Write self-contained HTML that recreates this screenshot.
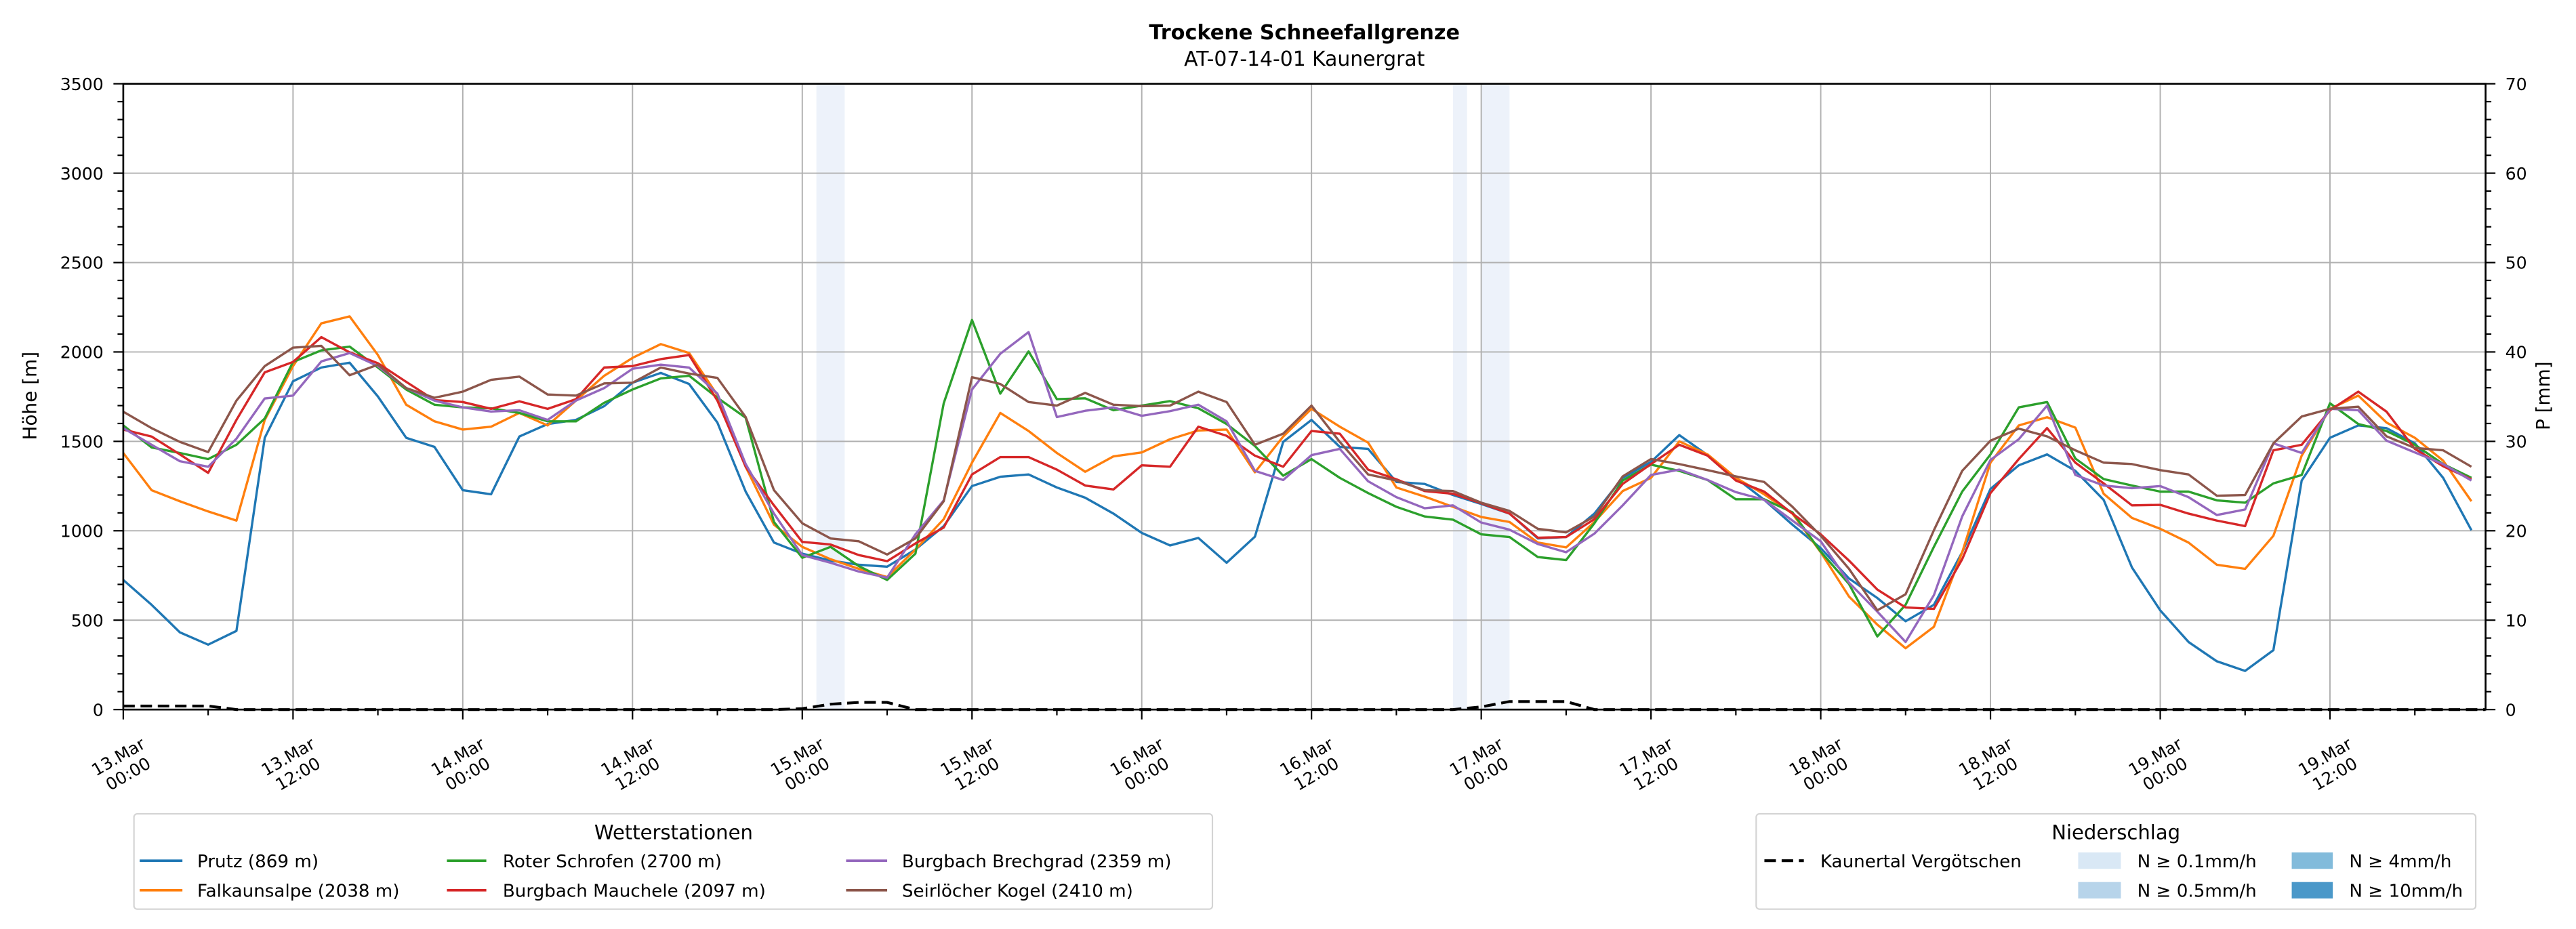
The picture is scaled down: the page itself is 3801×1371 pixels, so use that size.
<!DOCTYPE html>
<html><head><meta charset="utf-8"><style>
html,body{margin:0;padding:0;background:#fff;}
svg{display:block;font-family:"DejaVu Sans","Liberation Sans",sans-serif;}
</style></head><body>
<svg id="chart" width="3801" height="1371" viewBox="0 0 1568 565.6" xmlns="http://www.w3.org/2000/svg">
<rect width="1568" height="565.6" fill="#fff"/>
<text x="794" y="24" text-anchor="middle" font-size="12.5" font-weight="bold">Trockene Schneefallgrenze</text>
<text x="794" y="40" text-anchor="middle" font-size="12.3">AT-07-14-01 Kaunergrat</text>
<g id="shade"></g><g id="grid"></g><g id="series"></g><g id="axes"></g>
<text transform="translate(22,241) rotate(-90)" text-anchor="middle" font-size="11.5">Höhe [m]</text>
<text transform="translate(1552,241) rotate(-90)" text-anchor="middle" font-size="11.5">P [mm]</text>
<g>
<rect x="81.5" y="495.5" width="656.5" height="58" rx="2" fill="#fff" stroke="#d4d4d4" stroke-width="0.9"/>
<text x="410" y="511" text-anchor="middle" font-size="12">Wetterstationen</text>
<g font-size="10.8">
<line x1="85" y1="524" x2="111" y2="524" stroke="#1f77b4" stroke-width="1.5"/><text x="120" y="528">Prutz (869 m)</text>
<line x1="85" y1="542" x2="111" y2="542" stroke="#ff7f0e" stroke-width="1.5"/><text x="120" y="546">Falkaunsalpe (2038 m)</text>
<line x1="272" y1="524" x2="296" y2="524" stroke="#2ca02c" stroke-width="1.5"/><text x="306" y="528">Roter Schrofen (2700 m)</text>
<line x1="272" y1="542" x2="296" y2="542" stroke="#d62728" stroke-width="1.5"/><text x="306" y="546">Burgbach Mauchele (2097 m)</text>
<line x1="515" y1="524" x2="540" y2="524" stroke="#9467bd" stroke-width="1.5"/><text x="549" y="528">Burgbach Brechgrad (2359 m)</text>
<line x1="515" y1="542" x2="540" y2="542" stroke="#8c564b" stroke-width="1.5"/><text x="549" y="546">Seirlöcher Kogel (2410 m)</text>
</g></g>
<g>
<rect x="1069" y="495.5" width="438" height="58" rx="2" fill="#fff" stroke="#d4d4d4" stroke-width="0.9"/>
<text x="1288" y="511" text-anchor="middle" font-size="12">Niederschlag</text>
<g font-size="10.8">
<line x1="1074" y1="524" x2="1098" y2="524" stroke="#000" stroke-width="1.7" stroke-dasharray="7,3.5"/><text x="1108" y="528">Kaunertal Vergötschen</text>
<rect x="1265" y="519" width="26" height="10" fill="#d9e8f5"/><text x="1301" y="528">N ≥ 0.1mm/h</text>
<rect x="1265" y="537" width="26" height="10" fill="#b7d4ea"/><text x="1301" y="546">N ≥ 0.5mm/h</text>
<rect x="1395" y="519" width="25" height="10" fill="#82bbdb"/><text x="1430" y="528">N ≥ 4mm/h</text>
<rect x="1395" y="537" width="25" height="10" fill="#4a98c9"/><text x="1430" y="546">N ≥ 10mm/h</text>
</g></g>
</svg>
<script>
const hours = Array.from({length:84},(_, i)=>i*2);
const prutz = [725,586,432,363,440,1520,1836,1913,1940,1751,1520,1469,1227,1204,1527,1597,1620,1697,1828,1883,1821,1605,
1219,934,872,833,810,799,895,1026,1250,1302,1315,1242,1185,1096,988,918,960,821,967,1497,1620,
1469,1458,1273,1262,1200,1150,1096,957,965,1096,1296,1385,1535,1423,1296,1173,1034,903,733,624,494,
586,880,1234,1366,1427,1335,1173,795,555,378,270,216,332,1281,1520,1589,1574,1489,1296,1003];
const falkaunsalpe = [1435,1227,1165,1108,1057,1620,1921,2160,2199,1983,1705,1612,1566,1582,1659,1589,1728,1867,1967,2044,1994,1759,
1358,1034,910,841,787,741,895,1065,1381,1659,1558,1435,1330,1416,1438,1512,1561,1566,1327,1527,1682,
1582,1493,1242,1191,1134,1077,1049,934,907,1049,1222,1296,1500,1427,1296,1204,1096,880,632,475,343,
463,880,1381,1589,1635,1577,1207,1072,1011,934,810,787,972,1420,1682,1756,1605,1520,1392,1165];
const roterSchrofen = [1589,1466,1435,1401,1481,1628,1944,2009,2030,1913,1790,1705,1690,1685,1659,1612,1612,1716,1790,1852,1867,1744,
1632,1049,849,910,802,725,872,1713,2179,1767,2003,1736,1741,1674,1700,1725,1685,1597,1474,1308,1401,
1296,1211,1134,1080,1062,980,965,853,836,1042,1281,1370,1335,1284,1176,1176,1103,883,702,409,586,
910,1219,1427,1690,1720,1404,1289,1253,1219,1219,1170,1157,1265,1312,1713,1597,1558,1481,1373,1296];
const mauchele = [1566,1527,1427,1324,1620,1886,1944,2083,1998,1937,1833,1731,1720,1682,1724,1682,1736,1913,1921,1960,1983,1728,
1358,1142,938,923,864,830,929,1018,1315,1412,1412,1342,1253,1231,1366,1358,1582,1531,1420,1358,1558,
1543,1342,1288,1222,1207,1154,1096,961,965,1065,1262,1373,1481,1420,1281,1219,1096,980,833,671,571,
563,841,1211,1401,1574,1381,1265,1142,1145,1096,1057,1026,1450,1481,1674,1778,1666,1458,1361,1288];
const brechgrad = [1574,1481,1389,1358,1515,1740,1756,1947,1994,1921,1798,1728,1690,1667,1674,1620,1728,1798,1906,1929,1913,1767,
1373,1096,864,821,772,738,980,1170,1790,1990,2111,1636,1671,1690,1643,1669,1705,1612,1335,1284,1423,
1458,1277,1188,1126,1142,1046,1006,926,880,984,1142,1312,1342,1284,1216,1173,1057,941,710,548,378,
640,1080,1396,1512,1700,1312,1253,1238,1250,1188,1088,1119,1489,1435,1682,1674,1504,1438,1373,1281];
const seirloecher = [1666,1574,1497,1440,1728,1921,2024,2034,1870,1929,1798,1744,1778,1844,1862,1762,1756,1824,1828,1913,1879,1855,
1636,1227,1042,957,941,867,957,1165,1859,1821,1720,1700,1771,1705,1697,1700,1778,1720,1481,1543,1700,
1497,1315,1281,1227,1222,1157,1111,1011,991,1080,1304,1401,1373,1339,1304,1273,1134,972,787,555,645,
1003,1335,1504,1571,1528,1450,1381,1373,1339,1315,1196,1200,1489,1639,1682,1694,1528,1463,1450,1358];
const precip = [0.4,0.4,0.4,0.4,0,0,0,0,0,0,0,0,0,0,0,0,0,0,0,0,0,0,0,0,
0.1,0.6,0.8,0.8,0,0,0,0,0,0,0,0,0,0,0,0,0,0,0,0,0,0,0,0,
0.3,0.9,0.9,0.9,0,0,0,0,0,0,0,0,0,0,0,0,0,0,0,0,0,0,0,0,0,0,0,0,0,0,0,0,0,0,0,0];
const shadeStart = [49,94,96];
const shadeEnd = [51,95,98];
const tickLabels = ["13.Mar|00:00","13.Mar|12:00","14.Mar|00:00","14.Mar|12:00","15.Mar|00:00","15.Mar|12:00","16.Mar|00:00","16.Mar|12:00","17.Mar|00:00","17.Mar|12:00","18.Mar|00:00","18.Mar|12:00","19.Mar|00:00","19.Mar|12:00"];
const yTicks = [0,500,1000,1500,2000,2500,3000,3500];
const y2Ticks = [0,10,20,30,40,50,60,70];

const NS="http://www.w3.org/2000/svg";
const X0=75,X1=1513,Y0=432,Y1=51,HMAX=167;
const xs=h=>X0+(X1-X0)*h/HMAX;
const ys=v=>Y0-(Y0-Y1)*v/3500;
const ys2=v=>Y0-(Y0-Y1)*v/70;
function mk(tag,attrs,parent){const e=document.createElementNS(NS,tag);for(const k in attrs)e.setAttribute(k,attrs[k]);parent.appendChild(e);return e;}
const gShade=document.getElementById('shade'),gGrid=document.getElementById('grid'),gSer=document.getElementById('series'),gAx=document.getElementById('axes');

shadeStart.forEach((s,i)=>{
  const r=mk('rect',{x:xs(s),y:Y1,width:xs(shadeEnd[i])-xs(s),height:Y0-Y1,fill:'#edf2fa'},gShade);
  
  
});
yTicks.forEach(v=>{
  const l=mk('line',{x1:X0,x2:X1,y1:ys(v),y2:ys(v),stroke:'#b0b0b0','stroke-width':0.8},gGrid);
  
  
});
tickLabels.forEach((t,i)=>{
  const l=mk('line',{x1:xs(i*12),x2:xs(i*12),y1:Y1,y2:Y0,stroke:'#b0b0b0','stroke-width':0.8},gGrid);
  
  
});

const series=[[prutz,'#1f77b4','prutz'],[falkaunsalpe,'#ff7f0e','falkaunsalpe'],[roterSchrofen,'#2ca02c','roter-schrofen'],[mauchele,'#d62728','burgbach-mauchele'],[brechgrad,'#9467bd','burgbach-brechgrad'],[seirloecher,'#8c564b','seirloecher-kogel']];
series.forEach(([d,c,n])=>{
  const p=mk('polyline',{points:d.map((v,i)=>xs(hours[i])+','+ys(v)).join(' '),fill:'none',stroke:c,'stroke-width':1.4,'stroke-linejoin':'round'},gSer);
  
  
});
const pl=mk('polyline',{points:precip.map((v,i)=>xs(hours[i])+','+ys2(v)).join(' ')+' '+X1+','+ys2(0),fill:'none',stroke:'#000','stroke-width':1.7,'stroke-dasharray':'7,3.5'},gSer);



const fr=mk('rect',{x:X0,y:Y1,width:X1-X0,height:Y0-Y1,fill:'none',stroke:'#000','stroke-width':1.1},gAx);


for(let v=0;v<=3500;v+=100){
  const major=v%500===0;
  mk('line',{x1:X0,x2:X0-(major?6:3.5),y1:ys(v),y2:ys(v),stroke:'#000','stroke-width':0.9},gAx);
}
yTicks.forEach(v=>{
  const t=mk('text',{x:X0-12,y:ys(v)+3.8,'text-anchor':'end','font-size':10.4},gAx);t.textContent=v;
  
  
});
for(let v=0;v<=70;v+=2){
  const major=v%10===0;
  mk('line',{x1:X1,x2:X1+(major?6:3.5),y1:ys2(v),y2:ys2(v),stroke:'#000','stroke-width':0.9},gAx);
}
y2Ticks.forEach(v=>{
  const t=mk('text',{x:X1+12,y:ys2(v)+3.8,'font-size':10.4},gAx);t.textContent=v;
  
  
});
for(let h=0;h<=HMAX;h+=6){
  const major=h%12===0;
  mk('line',{x1:xs(h),x2:xs(h),y1:Y0,y2:Y0+(major?6:3.5),stroke:'#000','stroke-width':0.9},gAx);
}
tickLabels.forEach((s,i)=>{
  const [a,b]=s.split('|');
  const x=xs(i*12);
  const t=mk('text',{transform:`translate(${x},${Y0+34}) rotate(-30)`,'text-anchor':'middle','font-size':10.2},gAx);
  const t1=mk('tspan',{x:0,y:-2.5},t);t1.textContent=a;
  const t2=mk('tspan',{x:0,y:9.5},t);t2.textContent=b;
  
  
});
</script>
</body></html>
